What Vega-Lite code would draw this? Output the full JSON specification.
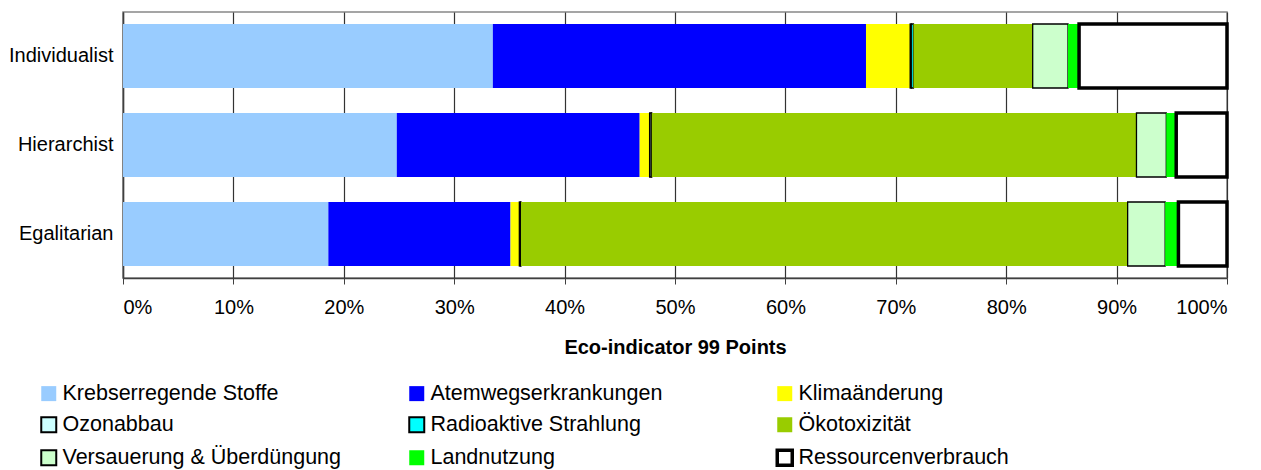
{
  "$schema": "https://vega.github.io/schema/vega-lite/v6.json",
  "autosize": {"type": "none"},
  "padding": {"left": 123, "top": 12, "right": 34, "bottom": 192},
  "width": 1104,
  "height": 266,
  "background": "white",
  "config": {
    "font": "Liberation Sans",
    "view": {"stroke": "#888888", "strokeWidth": 1.5},
    "axis": {"labelFont": "Liberation Sans", "titleFont": "Liberation Sans", "labelColor": "#000000", "titleColor": "#000000"},
    "legend": {"labelFont": "Liberation Sans"}
  },
  "data": {
    "values": [
      {"Perspektive": "Individualist", "Kategorie": "Krebserregende Stoffe", "k": 1, "Wert": 33.5},
      {"Perspektive": "Individualist", "Kategorie": "Atemwegserkrankungen", "k": 2, "Wert": 33.8},
      {"Perspektive": "Individualist", "Kategorie": "Klimaänderung", "k": 3, "Wert": 4.0},
      {"Perspektive": "Individualist", "Kategorie": "Ozonabbau", "k": 4, "Wert": 0.1},
      {"Perspektive": "Individualist", "Kategorie": "Radioaktive Strahlung", "k": 5, "Wert": 0.2},
      {"Perspektive": "Individualist", "Kategorie": "Ökotoxizität", "k": 6, "Wert": 10.8},
      {"Perspektive": "Individualist", "Kategorie": "Versauerung & Überdüngung", "k": 7, "Wert": 3.2},
      {"Perspektive": "Individualist", "Kategorie": "Landnutzung", "k": 8, "Wert": 1.0},
      {"Perspektive": "Individualist", "Kategorie": "Ressourcenverbrauch", "k": 9, "Wert": 13.4},
      {"Perspektive": "Hierarchist", "Kategorie": "Krebserregende Stoffe", "k": 1, "Wert": 24.8},
      {"Perspektive": "Hierarchist", "Kategorie": "Atemwegserkrankungen", "k": 2, "Wert": 22.0},
      {"Perspektive": "Hierarchist", "Kategorie": "Klimaänderung", "k": 3, "Wert": 0.9},
      {"Perspektive": "Hierarchist", "Kategorie": "Ozonabbau", "k": 4, "Wert": 0.15},
      {"Perspektive": "Hierarchist", "Kategorie": "Radioaktive Strahlung", "k": 5, "Wert": 0.05},
      {"Perspektive": "Hierarchist", "Kategorie": "Ökotoxizität", "k": 6, "Wert": 43.9},
      {"Perspektive": "Hierarchist", "Kategorie": "Versauerung & Überdüngung", "k": 7, "Wert": 2.7},
      {"Perspektive": "Hierarchist", "Kategorie": "Landnutzung", "k": 8, "Wert": 0.9},
      {"Perspektive": "Hierarchist", "Kategorie": "Ressourcenverbrauch", "k": 9, "Wert": 4.6},
      {"Perspektive": "Egalitarian", "Kategorie": "Krebserregende Stoffe", "k": 1, "Wert": 18.6},
      {"Perspektive": "Egalitarian", "Kategorie": "Atemwegserkrankungen", "k": 2, "Wert": 16.5},
      {"Perspektive": "Egalitarian", "Kategorie": "Klimaänderung", "k": 3, "Wert": 0.8},
      {"Perspektive": "Egalitarian", "Kategorie": "Ozonabbau", "k": 4, "Wert": 0.1},
      {"Perspektive": "Egalitarian", "Kategorie": "Radioaktive Strahlung", "k": 5, "Wert": 0.05},
      {"Perspektive": "Egalitarian", "Kategorie": "Ökotoxizität", "k": 6, "Wert": 54.95},
      {"Perspektive": "Egalitarian", "Kategorie": "Versauerung & Überdüngung", "k": 7, "Wert": 3.4},
      {"Perspektive": "Egalitarian", "Kategorie": "Landnutzung", "k": 8, "Wert": 1.2},
      {"Perspektive": "Egalitarian", "Kategorie": "Ressourcenverbrauch", "k": 9, "Wert": 4.4}
    ]
  },
  "mark": {"type": "bar"},
  "encoding": {
    "y": {
      "field": "Perspektive",
      "type": "nominal",
      "sort": ["Individualist", "Hierarchist", "Egalitarian"],
      "scale": {"paddingInner": 0.281, "paddingOuter": 0.135},
      "axis": {"title": null, "ticks": false, "labelFontSize": 20, "labelPadding": 10, "domainColor": "#404040", "domainWidth": 1.5}
    },
    "x": {
      "field": "Wert",
      "type": "quantitative",
      "stack": "normalize",
      "scale": {"domain": [0, 1], "nice": false},
      "axis": {
        "title": "Eco-indicator 99 Points",
        "titleFontSize": 20,
        "titleFontWeight": "bold",
        "titlePadding": 20,
        "format": ".0%",
        "values": [0, 0.1, 0.2, 0.3, 0.4, 0.5, 0.6, 0.7, 0.8, 0.9, 1],
        "labelFontSize": 20,
        "labelPadding": 13,
        "tickSize": 6,
        "tickColor": "#404040",
        "domainColor": "#404040",
        "domainWidth": 1.5,
        "grid": true,
        "gridColor": "#333333",
        "gridWidth": 1.2,
        "gridOpacity": 1
      }
    },
    "order": {"field": "k", "type": "quantitative"},
    "fill": {
      "field": "Kategorie",
      "type": "nominal",
      "scale": {
        "domain": ["Krebserregende Stoffe", "Atemwegserkrankungen", "Klimaänderung", "Ozonabbau", "Radioaktive Strahlung", "Ökotoxizität", "Versauerung & Überdüngung", "Landnutzung", "Ressourcenverbrauch"],
        "range": ["#99CCFF", "#0000FF", "#FFFF00", "#CCFFFF", "#00FFFF", "#99CC00", "#CCFFCC", "#00FF00", "#FFFFFF"]
      },
      "legend": {
        "title": null,
        "orient": "none",
        "legendX": -85,
        "legendY": 369,
        "direction": "horizontal",
        "columns": 3,
        "gridAlign": "all",
        "columnPadding": 60,
        "rowPadding": 3,
        "symbolType": "square",
        "symbolSize": 225,
        "symbolOpacity": 1,
        "symbolStrokeWidth": 1.5,
        "labelFontSize": 21.5,
        "labelColor": "#000000",
        "labelOffset": 3,
        "labelLimit": 400,
        "encode": {
          "symbols": {
            "update": {
              "strokeWidth": {"signal": "datum.value === 'Ressourcenverbrauch' ? 3.5 : 2"}
            }
          }
        }
      }
    },
    "stroke": {
      "field": "Kategorie",
      "type": "nominal",
      "scale": {
        "domain": ["Krebserregende Stoffe", "Atemwegserkrankungen", "Klimaänderung", "Ozonabbau", "Radioaktive Strahlung", "Ökotoxizität", "Versauerung & Überdüngung", "Landnutzung", "Ressourcenverbrauch"],
        "range": ["transparent", "transparent", "transparent", "#000000", "#000000", "transparent", "#000000", "transparent", "#000000"]
      }
    },
    "strokeWidth": {
      "condition": {"test": "datum.Kategorie === 'Ressourcenverbrauch'", "value": 3.5},
      "value": 1.3
    }
  }
}
